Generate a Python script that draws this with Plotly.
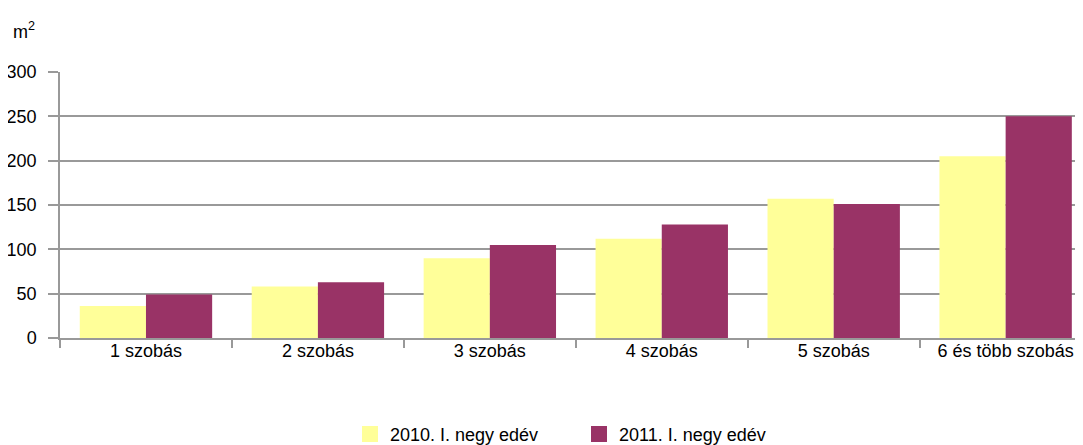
import plotly.graph_objects as go

categories = ["1 szobás", "2 szobás", "3 szobás", "4 szobás", "5 szobás", "6 és több szobás"]
series_2010 = [36, 58, 90, 112, 157, 205]
series_2011 = [49, 63, 105, 128, 151, 250]
series_names = ["2010. I. negy edév", "2011. I. negy edév"]
series_colors = ["#FFFF99", "#993366"]
y_ticks = [0, 50, 100, 150, 200, 250, 300]

FONT = "Liberation Sans, Arial, sans-serif"
GRID = "#999999"
OFF = 8  # default page body margin

fig = go.Figure()
for vals, name, col in zip([series_2010, series_2011], series_names, series_colors):
    fig.add_trace(go.Bar(x=categories, y=vals, name=name, showlegend=False,
                         marker=dict(color=col, line=dict(width=0))))
# legend entries with larger square swatches
for name, col in zip(series_names, series_colors):
    fig.add_trace(go.Scatter(x=[None], y=[None], mode="markers", name=name,
                             marker=dict(symbol="square", size=18, color=col,
                                         line=dict(width=0))))

plot_top, plot_bottom, plot_left, page_w, page_h = 71.7, 337.7, 60, 1083, 445
plot_h = plot_bottom - plot_top
plot_w = page_w - plot_left

fig.update_layout(
    width=page_w, height=page_h,
    margin=dict(l=plot_left - OFF, r=OFF, t=plot_top - OFF,
                b=page_h + OFF - plot_bottom, autoexpand=False),
    paper_bgcolor="white", plot_bgcolor="white",
    barmode="group", bargap=0.23, bargroupgap=0,
    font=dict(family=FONT, size=18, color="#000000"),
    showlegend=True,
    legend=dict(orientation="h", x=(350 - plot_left) / plot_w, xanchor="left",
                y=-(434 - plot_bottom) / plot_h, yanchor="middle",
                entrywidth=184, entrywidthmode="pixels", itemsizing="trace",
                font=dict(family=FONT, size=18, color="#000000"),
                traceorder="normal", bgcolor="rgba(0,0,0,0)"),
    xaxis=dict(type="category", range=[-0.5, 5.45], tickson="boundaries",
               ticks="outside", ticklen=8, tickcolor=GRID, tickwidth=1.5,
               showline=True, linecolor=GRID, linewidth=1.5, automargin=False,
               showgrid=False, tickfont=dict(family=FONT, size=18, color="#000000"),
               ticklabelstandoff=-4),
    yaxis=dict(range=[0, 300], tickvals=y_ticks, ticks="outside", ticklen=10,
               tickcolor=GRID, tickwidth=1.5, showline=True, linecolor=GRID, linewidth=1.5,
               showgrid=True, gridcolor=GRID, gridwidth=1.5, zeroline=False,
               automargin=False,
               tickfont=dict(family=FONT, size=18, color="#000000"),
               ticklabelstandoff=8),
    annotations=[dict(text="m<sup>2</sup>", xref="paper", yref="paper",
                      x=(11 - plot_left) / plot_w, y=1 + (plot_top - 30) / plot_h,
                      xanchor="left", yanchor="middle",
                      showarrow=False, font=dict(family=FONT, size=18, color="#000000"))],
)

fig.write_html("out.html")
